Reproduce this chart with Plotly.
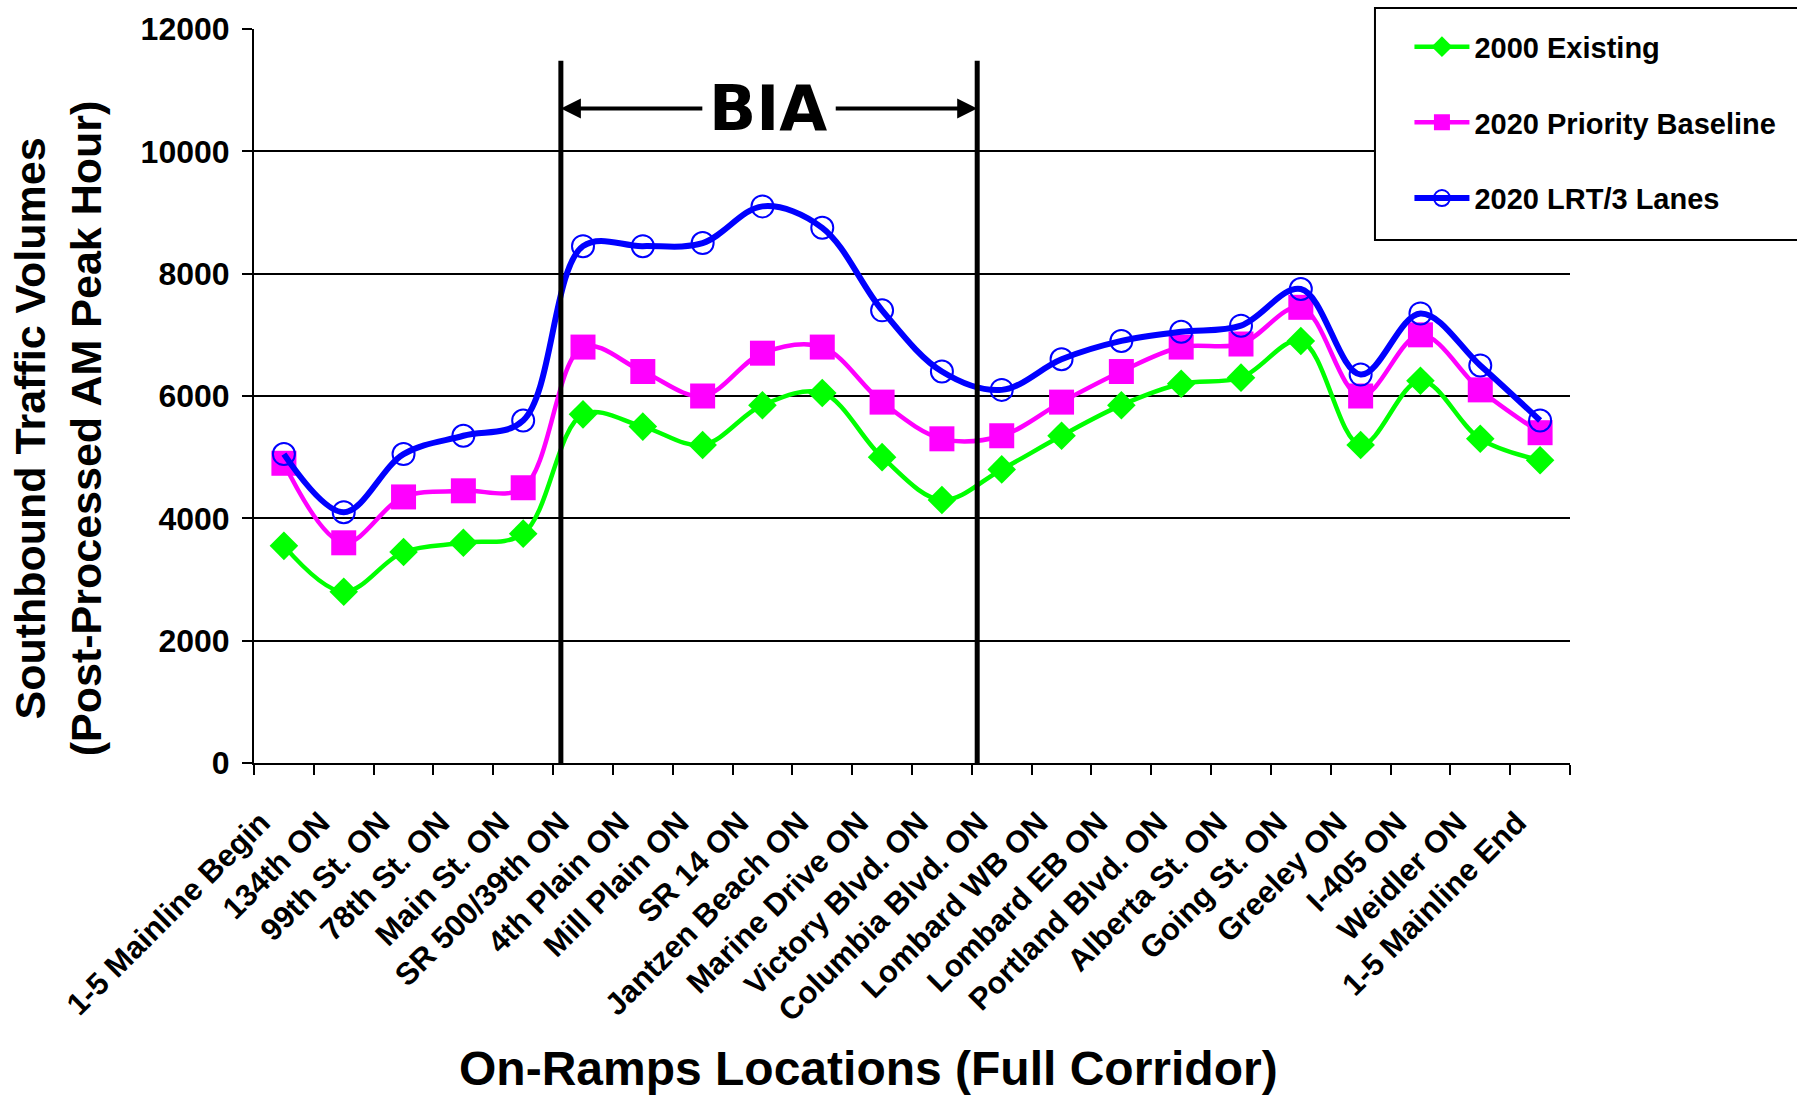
import plotly.graph_objects as go

locations = [
    "1-5 Mainline Begin", "134th ON", "99th St. ON", "78th St. ON", "Main St. ON",
    "SR 500/39th ON", "4th Plain ON", "Mill Plain ON", "SR 14 ON", "Jantzen Beach ON",
    "Marine Drive ON", "Victory Blvd. ON", "Columbia Blvd. ON", "Lombard WB ON",
    "Lombard EB ON", "Portland Blvd. ON", "Alberta St. ON", "Going St. ON",
    "Greeley ON", "I-405 ON", "Weidler ON", "1-5 Mainline End",
]
existing_2000 = [3550, 2800, 3450, 3600, 3750, 5700, 5500, 5200, 5850, 6050, 5000,
                 4300, 4800, 5350, 5850, 6200, 6300, 6900, 5200, 6250, 5300, 4950]
priority_2020 = [4900, 3600, 4350, 4450, 4500, 6800, 6400, 6000, 6700, 6800, 5900,
                 5300, 5350, 5900, 6400, 6800, 6850, 7450, 6000, 7000, 6100, 5400]
lrt_2020 = [5050, 4100, 5050, 5350, 5600, 8450, 8450, 8500, 9100, 8750, 7400,
            6400, 6100, 6600, 6900, 7050, 7150, 7750, 6350, 7350, 6500, 5600]
y_ticks = [0, 2000, 4000, 6000, 8000, 10000, 12000]
y_tick_labels = ["0", "2000", "4000", "6000", "8000", "10000", "12000"]

# BIA zone annotation positions (category index units / y value)
bia_left, bia_right = 4.63, 11.59
bia_top = 11480
bia_arrow_y = 10700
bia_text_x = 8.1

FONT = "Liberation Sans, Arial, sans-serif"

fig = go.Figure()
fig.add_trace(go.Scatter(
    x=locations, y=existing_2000, name="2000 Existing", mode="lines+markers",
    line=dict(color="#00FF00", width=4.5, shape="spline", smoothing=1.0),
    marker=dict(symbol="diamond", size=22, color="#00FF00"),
    legendgroup="a"))
fig.add_trace(go.Scatter(
    x=locations, y=priority_2020, name="2020 Priority Baseline", mode="lines+markers",
    line=dict(color="#FF00FF", width=4.5, shape="spline", smoothing=1.0),
    marker=dict(symbol="square", size=25, color="#FF00FF"),
    legendgroup="b"))
fig.add_trace(go.Scatter(
    x=locations, y=lrt_2020, name="2020 LRT/3 Lanes", mode="lines+markers",
    line=dict(color="#0000FF", width=6, shape="spline", smoothing=1.0),
    marker=dict(symbol="circle-open", size=22, color="#0000FF",
                line=dict(color="#0000FF", width=2)),
    legendgroup="c"))

# BIA vertical lines
for xv in (bia_left, bia_right):
    fig.add_shape(type="line", xref="x", yref="y", x0=xv, x1=xv, y0=0, y1=bia_top,
                  line=dict(color="black", width=5), layer="above")

# Legend box
fig.add_shape(type="rect", xref="paper", yref="paper",
              x0=0.8518, x1=1.18, y0=0.7125, y1=1.0286,
              line=dict(color="black", width=2), fillcolor="white", layer="above")

annotations = [
    dict(x=bia_left, y=bia_arrow_y, ax=7.02, ay=bia_arrow_y, xref="x", yref="y",
         axref="x", ayref="y", text="", showarrow=True, arrowhead=2, arrowsize=1,
         arrowwidth=4, arrowcolor="black", standoff=0, startstandoff=0),
    dict(x=bia_right, y=bia_arrow_y, ax=9.2, ay=bia_arrow_y, xref="x", yref="y",
         axref="x", ayref="y", text="", showarrow=True, arrowhead=2, arrowsize=1,
         arrowwidth=4, arrowcolor="black", standoff=0, startstandoff=0),
    dict(x=bia_text_x, y=bia_arrow_y, xref="x", yref="y", text="<b>BIA</b>",
         showarrow=False, font=dict(family="DejaVu Sans", size=62, color="black"),
         xanchor="center", yanchor="middle"),
    dict(x=0.467, y=-0.4165, xref="paper", yref="paper",
         text="<b>On-Ramps Locations (Full Corridor)</b>", showarrow=False,
         font=dict(family=FONT, size=48, color="black"),
         xanchor="center", yanchor="middle"),
    dict(x=-0.149, y=0.456, xref="paper", yref="paper",
         text="<b>Southbound Traffic Volumes<br>(Post-Processed AM Peak Hour)</b>",
         showarrow=False, textangle=-90,
         font=dict(family=FONT, size=43, color="black"),
         xanchor="center", yanchor="middle"),
]

fig.update_layout(
    width=1797, height=1095,
    margin=dict(l=254, r=227, t=29, b=332),
    paper_bgcolor="white", plot_bgcolor="white",
    font=dict(family=FONT, color="black"),
    showlegend=True,
    legend=dict(x=0.878, y=1.0105, xanchor="left", yanchor="top",
                bgcolor="rgba(0,0,0,0)", borderwidth=0,
                font=dict(family=FONT, size=29, color="black", weight="bold"),
                traceorder="grouped", tracegroupgap=35, itemwidth=55),
    annotations=annotations,
    xaxis=dict(
        type="category", categoryorder="array", categoryarray=locations,
        range=[-0.5, len(locations) - 0.5],
        showline=True, linecolor="black", linewidth=2,
        ticks="outside", ticklen=10, tickwidth=2, tickcolor="black",
        tickson="boundaries", tickangle=-45, showgrid=False,
        tickfont=dict(family=FONT, size=31, color="black", weight="bold"),
        ticklabelstandoff=27, ticklabelshift=-23,
    ),
    yaxis=dict(
        range=[0, 12000], tickvals=y_ticks, ticktext=y_tick_labels,
        showline=True, linecolor="black", linewidth=2,
        ticks="outside", ticklen=10, tickwidth=2, tickcolor="black",
        showgrid=True, gridcolor="black", gridwidth=2, zeroline=False,
        tickfont=dict(family=FONT, size=32, color="black", weight="bold"),
        ticklabelstandoff=6,
    ),
)

fig.write_html("out.html")
